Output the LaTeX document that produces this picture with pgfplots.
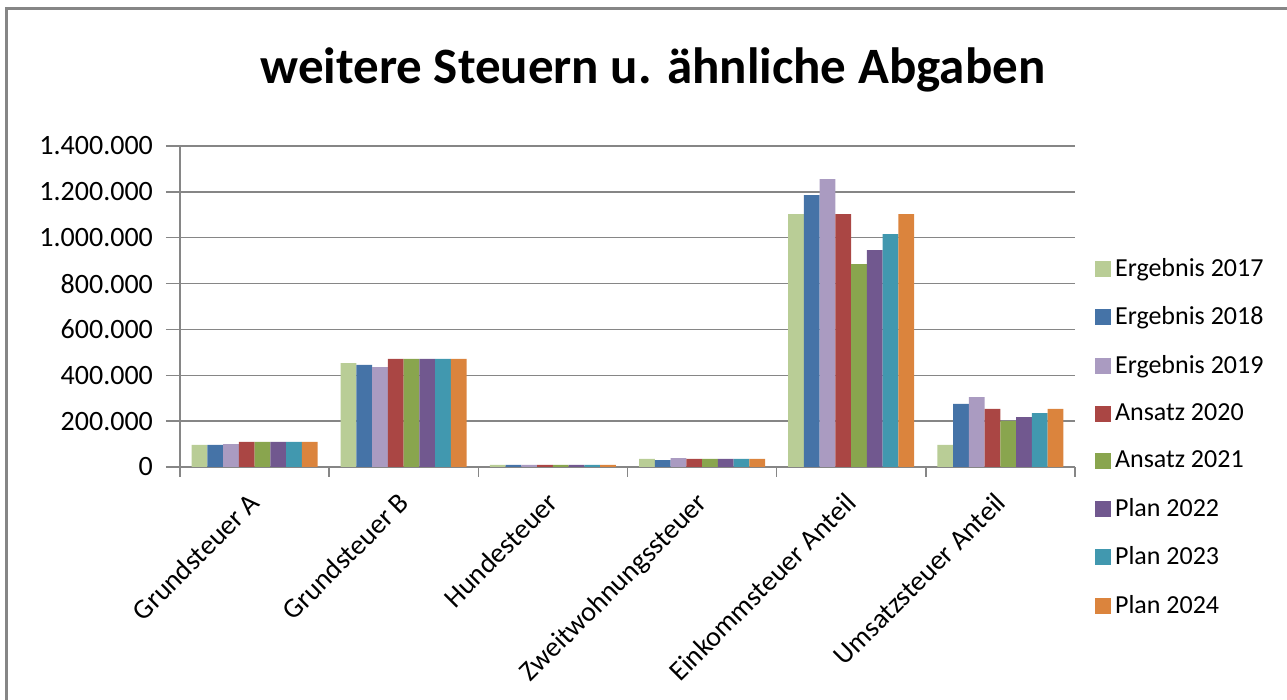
\documentclass[border=0pt]{standalone}
\usepackage{fontspec}
\setmainfont{Carlito}
\usepackage{pgfplots}
\pgfplotsset{compat=1.18}
\definecolor{cA}{HTML}{B9CD96}
\definecolor{cB}{HTML}{4573A7}
\definecolor{cC}{HTML}{AA9BC1}
\definecolor{cD}{HTML}{AA4644}
\definecolor{cE}{HTML}{89A54E}
\definecolor{cF}{HTML}{71588F}
\definecolor{cG}{HTML}{4198AF}
\definecolor{cH}{HTML}{DB843D}
\definecolor{gridg}{HTML}{868686}
\begin{document}
\begin{tikzpicture}
\useasboundingbox (0,0) rectangle (643.5pt,350pt);
\draw[gridg, line width=1.5pt] (3pt,-5pt) -- (3pt,345.5pt) -- (660pt,345.5pt);
\node[font=\bfseries\fontsize{25.5}{28}\selectfont] at (326.5pt,315pt) {weitere Steuern u. ähnliche Abgaben};
\begin{axis}[
  at={(90pt,116.5pt)}, anchor=south west,
  scale only axis, width=447.5pt, height=160.5pt,
  ybar=0pt, bar width=7.875pt,
  xmin=-0.5, xmax=5.5, ymin=0, ymax=1400000,
  ytick={0,200000,...,1400000},
  scaled y ticks=false,
  /pgf/number format/fixed,
  /pgf/number format/1000 sep={.},
  /pgf/number format/assume math mode=true,
  yticklabel style={font=\fontsize{14}{16}\selectfont, xshift=-3pt},
  xtick={0,...,5},
  xticklabels={Grundsteuer A,Grundsteuer B,Hundesteuer,Zweitwohnungssteuer,Einkommsteuer Anteil,Umsatzsteuer Anteil},
  xticklabel style={font=\fontsize{14}{16}\selectfont, rotate=45, anchor=north east, xshift=-2.5pt, yshift=2.5pt},
  major x tick style={draw=none},
  minor xtick={-0.5,0.5,...,5.5},
  minor x tick style={gridg, line width=0.75pt},
  axis lines*=left,
  axis line style={gridg, line width=0.75pt},
  tick align=outside,
  major tick length=7pt, minor tick length=5pt,
  y tick style={gridg, line width=0.75pt},
  ymajorgrids, major grid style={gridg, line width=0.75pt},
  legend cell align=left,
  legend style={at={(1.022,0.664)}, anchor=north west, draw=none, fill=none,
    font=\fontsize{13}{15}\selectfont, row sep=9.7pt, inner sep=0pt},
  legend image code/.code={\fill[#1] (0pt,-4pt) rectangle (8pt,4pt);},
  every axis plot/.append style={draw=none},
]
\addplot[fill=cA] coordinates {(0,96000) (1,453000) (2,9000) (3,35000) (4,1103000) (5,96000)};
\addplot[fill=cB] coordinates {(0,96000) (1,445000) (2,9000) (3,30000) (4,1186000) (5,275000)};
\addplot[fill=cC] coordinates {(0,100000) (1,436000) (2,9000) (3,39000) (4,1256000) (5,305000)};
\addplot[fill=cD] coordinates {(0,109000) (1,471000) (2,9000) (3,35000) (4,1103000) (5,253000)};
\addplot[fill=cE] coordinates {(0,109000) (1,471000) (2,9000) (3,35000) (4,885000) (5,200000)};
\addplot[fill=cF] coordinates {(0,109000) (1,471000) (2,9000) (3,35000) (4,946000) (5,218000)};
\addplot[fill=cG] coordinates {(0,109000) (1,471000) (2,9000) (3,35000) (4,1016000) (5,235000)};
\addplot[fill=cH] coordinates {(0,109000) (1,471000) (2,9000) (3,35000) (4,1103000) (5,253000)};
\legend{Ergebnis 2017,Ergebnis 2018,Ergebnis 2019,Ansatz 2020,Ansatz 2021,Plan 2022,Plan 2023,Plan 2024}
\end{axis}
\end{tikzpicture}
\end{document}
